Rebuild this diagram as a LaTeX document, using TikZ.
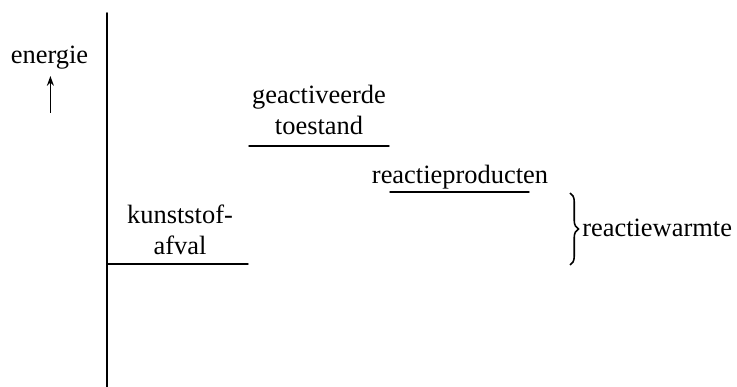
\documentclass[tikz,border=0pt]{standalone}
\usepackage{fontspec}
\setmainfont{Liberation Serif}
\usepackage{tikz}
\usepackage{tkz-euclide}
\usetikzlibrary{calc,decorations.pathreplacing}
\usetikzlibrary{arrows.meta}

\begin{document}
\begin{tikzpicture}[scale=1,
        lbl/.style={font=\fontsize{18.8}{22.5}\selectfont,inner sep=0pt,align=center}]
                \useasboundingbox (0,0) rectangle (18.425,9.675);
                \tkzDefPoint(2.675,9.35){Top}
                \tkzDefPoint(2.675,0){Bot}
                \tkzDrawSegment[line width=1.3pt](Top,Bot)
                % niveaus
                \tkzDefPoint(2.675,3.075){K1}
                \tkzDefPoint(6.2,3.075){K2}
                \tkzDefPoint(6.225,6.025){G1}
                \tkzDefPoint(9.725,6.025){G2}
                \tkzDefPoint(9.75,4.875){R1}
                \tkzDefPoint(13.225,4.875){R2}
                \tkzDrawSegment[line width=1pt](K1,K2)
                \tkzDrawSegment[line width=1pt](G1,G2)
                \tkzDrawSegment[line width=1pt](R1,R2)
                % labels
                \node[lbl,anchor=base] (kunststof) at (4.5,3.3) {kunststof-\\afval};
                \node[lbl,anchor=base] (geactiveerd) at (7.975,6.3) {geactiveerde\\toestand};
                \node[lbl,anchor=base] (producten) at (11.5,5.075) {reactieproducten};
                % energie-as
                \node[lbl,anchor=base] (energie) at (1.2375,8.075) {energie};
                \tkzDefPoint(1.26,6.85){E1}
                \tkzDefPoint(1.26,7.775){E2}
                \draw[line width=0.9pt,-{Stealth[length=7pt,width=5pt]}] (E1) -- (E2);
                % reactiewarmte
                \tkzDefPoint(14.25,4.85){W1}
                \tkzDefPoint(14.25,3.05){W2}
                \draw[line width=1.1pt,decorate,decoration={brace,amplitude=6pt}] (W1) -- (W2);
                \node[lbl,anchor=west] (warmte) at (14.55,3.98) {reactiewarmte};
            \end{tikzpicture}
\end{document}
